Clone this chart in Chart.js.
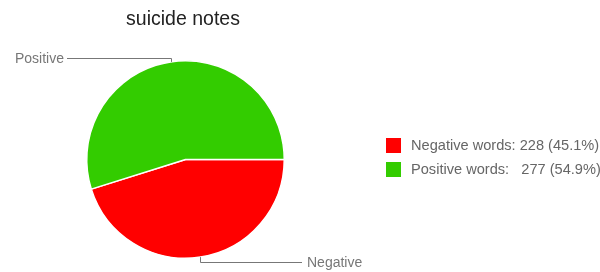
<!DOCTYPE html>
<html>
<head>
<meta charset="utf-8">
<script src="https://cdn.jsdelivr.net/npm/chart.js@4"></script>
<style>
  html, body { margin: 0; padding: 0; background: #fff; }
  #wrap { width: 600px; height: 272px; position: relative; }
</style>
</head>
<body>
<div id="wrap"><canvas id="pie"></canvas></div>
<script>
// data
const categories = ['Negative', 'Positive'];
const legendNames = ['Negative words:', 'Positive words:'];
const counts = [228, 277];
const percents = ['45.1%', '54.9%'];
const colours = ['#ff0000', '#33cc00'];
const chartTitle = 'suicide notes';

const FONT = '"Liberation Sans", Arial, sans-serif';

// title, leader labels and legend drawn on top of the pie
const decorations = {
    id: 'decorations',
    afterDraw(chart) {
        const ctx = chart.ctx;
        ctx.save();

        // title
        ctx.fillStyle = '#222';
        ctx.font = '19.5px ' + FONT;
        ctx.textAlign = 'center';
        ctx.textBaseline = 'alphabetic';
        ctx.fillText(chartTitle, 183, 25);

        // leader lines from the middle of each slice
        const arcs = chart.getDatasetMeta(0).data;
        ctx.strokeStyle = '#777';
        ctx.lineWidth = 1;
        ctx.font = '14px ' + FONT;
        ctx.fillStyle = '#777';
        ctx.textBaseline = 'middle';
        arcs.forEach((arc, i) => {
            const mid = (arc.startAngle + arc.endAngle) / 2;
            const ax = arc.x + Math.cos(mid) * arc.outerRadius;
            const ay = arc.y + Math.sin(mid) * arc.outerRadius;
            const up = ay < arc.y;
            const ly = up ? ay - 4 : ay + 5;
            const ex = up ? 67 : 302;
            ctx.beginPath();
            ctx.moveTo(Math.round(ax) + 0.5, ay);
            ctx.lineTo(Math.round(ax) + 0.5, Math.round(ly) + 0.5);
            ctx.lineTo(ex, Math.round(ly) + 0.5);
            ctx.stroke();
            ctx.textAlign = up ? 'right' : 'left';
            ctx.fillText(categories[i], up ? ex - 3 : ex + 5, Math.round(ly) + 1);
        });

        // legend
        ctx.font = '14.6px ' + FONT;
        ctx.textAlign = 'left';
        categories.forEach((c, i) => {
            const y = 138 + i * 24;
            ctx.fillStyle = colours[i];
            ctx.fillRect(386, y, 15, 15);
            ctx.fillStyle = '#666';
            const gap = i === 1 ? '   ' : ' ';
            ctx.fillText(legendNames[i] + gap + counts[i] + ' (' + percents[i] + ')', 411, y + 8);
        });

        ctx.restore();
    }
};

new Chart(document.getElementById('pie'), {
    type: 'pie',
    data: {
        labels: categories,
        datasets: [{
            data: counts,
            backgroundColor: colours,
            borderColor: '#ffffff',
            borderWidth: 1.5,
        }]
    },
    options: {
        responsive: true,
        maintainAspectRatio: false,
        animation: false,
        rotation: 90,
        layout: { padding: { left: 86, right: 315, top: 60, bottom: 13 } },
        plugins: {
            legend: { display: false },
            tooltip: { enabled: false }
        }
    },
    plugins: [decorations]
});
</script>
</body>
</html>
